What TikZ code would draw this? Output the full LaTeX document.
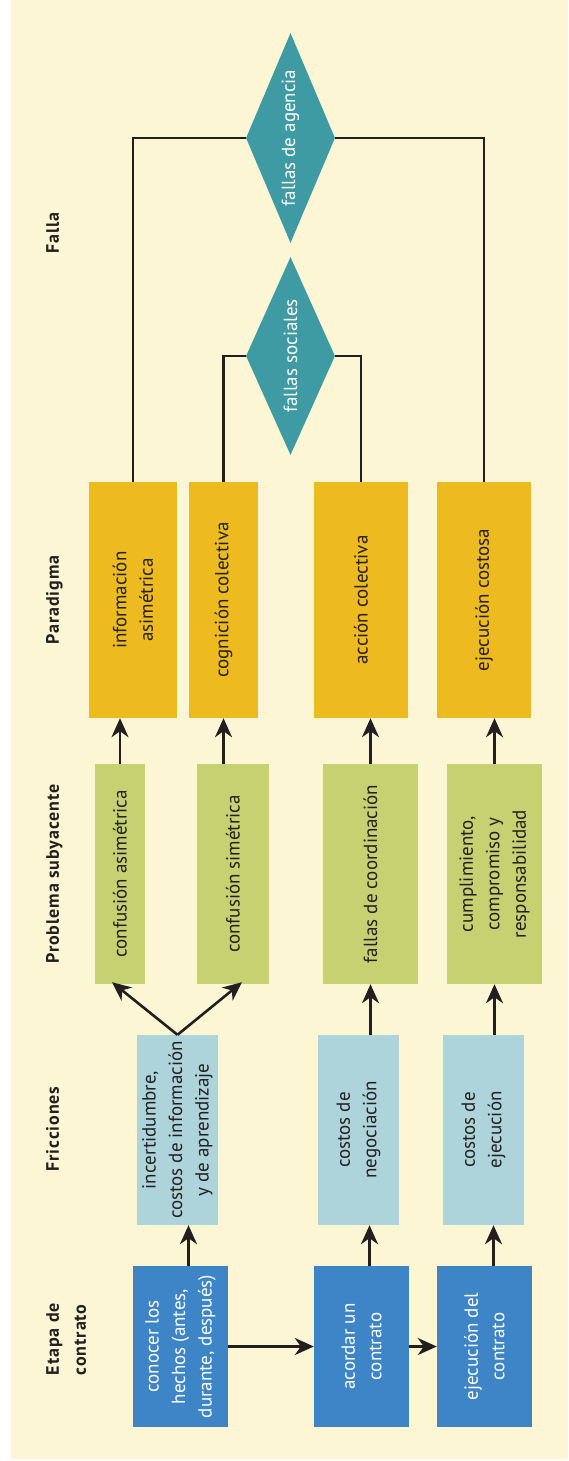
\documentclass[tikz,border=0pt]{standalone}
\usepackage{fontspec}
\setmainfont{PT Sans}
\newfontfamily\headfont[LetterSpace=5]{PT Sans}
\usetikzlibrary{shapes.geometric,arrows.meta}
\definecolor{fondo}{RGB}{253,246,212}
\definecolor{azul}{RGB}{61,133,198}
\definecolor{celeste}{RGB}{173,212,218}
\definecolor{verde}{RGB}{198,210,114}
\definecolor{naranja}{RGB}{237,187,31}
\definecolor{turquesa}{RGB}{62,154,163}
\definecolor{tinta}{RGB}{35,31,32}
\begin{document}
\begin{tikzpicture}[x=1pt,y=-1pt,
caja/.style ={rectangle, rotate=90, align=center, inner sep=0pt,
  text=tinta, font=\fontsize{19}{26.5}\selectfont
},
etapa/.style ={caja, fill=azul, text=white,
  minimum width=161pt, minimum height=95pt
},
friccion/.style ={caja, fill=celeste,
  minimum width=190pt, minimum height=81pt
},
problema/.style ={caja, fill=verde, minimum width=220pt},
paradigma/.style ={caja, fill=naranja, minimum width=236pt},
falla/.style ={diamond, aspect=2.3, rotate=90, inner sep=0pt,
  fill=turquesa, text=white, minimum height=89pt,
  font=\fontsize{19}{26.5}\selectfont
},
titulo/.style ={rotate=90, anchor=north, align=left, inner sep=0pt,
  text=tinta, font=\headfont\bfseries\fontsize{18}{27}\selectfont
},
flecha/.style ={draw=tinta, line width=2.6pt,
  -{Stealth[length=19pt,width=17pt,inset=6pt]}
},
linea/.style ={draw=tinta, line width=2.4pt}]
\useasboundingbox (0,0) rectangle (568,1461);
\fill[fondo] (11,0) rectangle (568,1459);

\node (t1) at (46,1339) [titulo] {Etapa de\\contrato};
\node (t2) at (46,1129) [titulo] {Fricciones};
\node (t3) at (46,874) [titulo] {Problema subyacente};
\node (t4) at (46,600) [titulo] {Paradigma};
\node (t5) at (46,233) [titulo] {Falla};

\node (b1) at (180.5,1346.5) [etapa] {conocer los\\hechos (antes,\\durante, después)};
\node (b2) at (361.5,1346.5) [etapa] {acordar un\\contrato};
\node (b3) at (484.5,1346.5) [etapa] {ejecución del\\contrato};

\node (f1) at (177.5,1130) [friccion] {incertidumbre,\\costos de información\\y de aprendizaje};
\node (f2) at (358.5,1130) [friccion] {costos de\\negociación};
\node (f3) at (483.5,1130) [friccion] {costos de\\ejecución};

\node (g1) at (120,874) [problema, minimum height=50pt] {confusión asimétrica};
\node (g2) at (233,874) [problema, minimum height=72pt] {confusión simétrica};
\node (g3) at (370.5,874) [problema, minimum height=95pt] {fallas de coordinación};
\node (g4) at (494.5,874) [problema, minimum height=95pt] {cumplimiento,\\compromiso y\\responsabilidad};

\node (o1) at (133,600) [paradigma, minimum height=88pt] {información\\asimétrica};
\node (o2) at (223.5,600) [paradigma, minimum height=69pt] {cognición colectiva};
\node (o3) at (361,600) [paradigma, minimum height=94pt] {acción colectiva};
\node (o4) at (484,600) [paradigma, minimum height=94pt] {ejecución costosa};

\node (sociales) at (290.5,356) [falla, minimum width=198pt] {fallas sociales};
\node (agencia) at (290.5,138) [falla, minimum width=210pt] {fallas de agencia};

\draw[flecha] (b1.south) -- (b2.north);
\draw[flecha] (b2.south) -- (b3.north);
\draw[flecha] ([xshift=8pt]b1.east) -- ([xshift=8pt]b1.east |- f1.west);
\draw[flecha] ([xshift=8pt]b2.east) -- ([xshift=8pt]b2.east |- f2.west);
\draw[flecha] ([xshift=9pt]b3.east) -- ([xshift=9pt]b3.east |- f3.west);
\draw[flecha] (f1.east) -- ([xshift=-8pt,yshift=2pt]g1.west);
\draw[flecha] (f1.east) -- ([xshift=9pt,yshift=2pt]g2.west);
\draw[flecha] (f2.east -| g3) -- (g3.west);
\draw[flecha] (f3.east -| g4) -- (g4.west);
\draw[flecha] (g1.east) -- (g1.east |- o1.west);
\draw[flecha] (g2.east -| o2) -- (o2.west);
\draw[flecha] (g3.east) -- (g3.east |- o3.west);
\draw[flecha] (g4.east) -- (g4.east |- o4.west);

\draw[linea] (o1.east) |- (agencia.north);
\draw[linea] (agencia.south) -| (o4.east);
\draw[linea] (o2.east) |- (sociales.north);
\draw[linea] (sociales.south) -| (o3.east);
\end{tikzpicture}
\end{document}
